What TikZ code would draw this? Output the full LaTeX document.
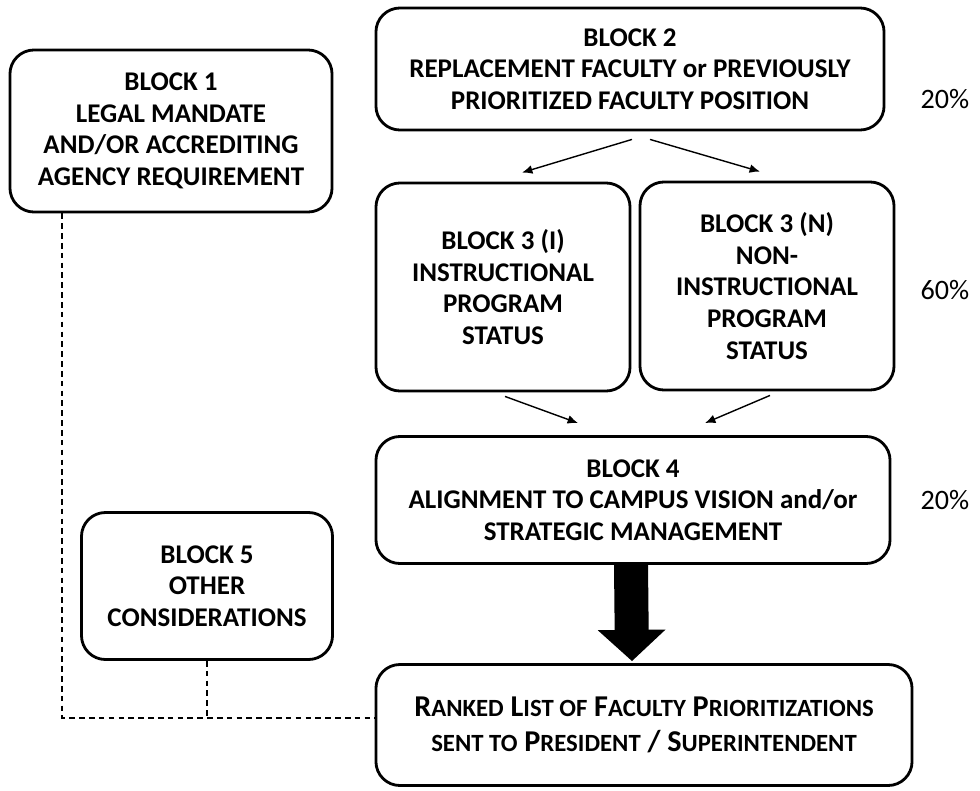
\documentclass[tikz,border=0pt]{standalone}
\usepackage{fontspec}
\setmainfont{Carlito}
\usetikzlibrary{arrows.meta,calc}
\newcommand{\lc}[1]{{\fontsize{17.6}{22}\selectfont #1}}
\begin{document}
\begin{tikzpicture}[x=0.025cm,y=-0.025cm,
  block/.style={draw,line width=2pt,rounded corners=0.6cm,align=center,
    font=\bfseries\fontsize{19.2}{22.5}\selectfont},
  thinarrow/.style={line width=1pt,-{Latex[length=2.6mm,width=2.2mm]}},
  link/.style={line width=1pt,dash pattern=on 4pt off 3pt},
  share/.style={font=\fontsize{20}{22}\selectfont}]
\useasboundingbox (0,0) rectangle (980,790);

\node[block,minimum width=8.05cm,minimum height=4.05cm] (b1) at (171,131)
  {BLOCK 1\\LEGAL MANDATE\\AND/OR ACCREDITING\\AGENCY REQUIREMENT};
\node[block,minimum width=12.7cm,minimum height=3.05cm] (b2) at (630,69)
  {BLOCK 2\\REPLACEMENT FACULTY or PREVIOUSLY\\PRIORITIZED FACULTY POSITION};
\node[block,minimum width=6.35cm,minimum height=5.2cm] (b3i) at (503,287)
  {BLOCK 3 (I)\\INSTRUCTIONAL\\PROGRAM\\STATUS};
\node[block,minimum width=6.35cm,minimum height=5.2cm] (b3n) at (767,286)
  {BLOCK 3 (N)\\NON-\\INSTRUCTIONAL\\PROGRAM\\STATUS};
\node[block,minimum width=12.85cm,minimum height=3.175cm] (b4) at (633,500)
  {BLOCK 4\\ALIGNMENT TO CAMPUS VISION and/or\\STRATEGIC MANAGEMENT};
\node[block,minimum width=6.275cm,minimum height=3.675cm] (b5) at (207,586)
  {BLOCK 5\\OTHER\\CONSIDERATIONS};
\node[block,minimum width=13.4cm,minimum height=3.025cm,
  font=\bfseries\fontsize{21.5}{25}\selectfont] (rank) at (644,725)
  {R\lc{ANKED} L\lc{IST OF} F\lc{ACULTY} P\lc{RIORITIZATIONS}\\
   \lc{SENT TO} P\lc{RESIDENT} / S\lc{UPERINTENDENT}};

\node[share] (p2) at (945,99) {20\%};
\node[share] (p3) at (945,290) {60\%};
\node[share] (p4) at (945,500) {20\%};

% arrows between blocks
\draw[thinarrow] ($(b2.south)+(2,8)$) -- ($(b3i.north)+(19,-9)$);
\draw[thinarrow] ($(b2.south)+(20,8)$) -- ($(b3n.north)+(-7,-9)$);
\draw[thinarrow] ($(b3i.south)+(2,4)$) -- ($(b4.north)+(-55,-12)$);
\draw[thinarrow] ($(b3n.south)+(3,4)$) -- ($(b4.north)+(72,-12)$);
\draw[line width=0.85cm,-{Triangle[length=0.78cm,width=1.65cm]}]
  ($(b4.south)+(-2,0)$) -- ($(rank.north)+(-12,-2)$);

% dashed links into the ranked list
\coordinate (j1) at (62,718);
\draw[link] (b1.south -| j1) -- (j1) -- (j1 -| rank.west);
\draw[link] (b5.south) -- (b5.south |- j1);
\end{tikzpicture}
\end{document}
